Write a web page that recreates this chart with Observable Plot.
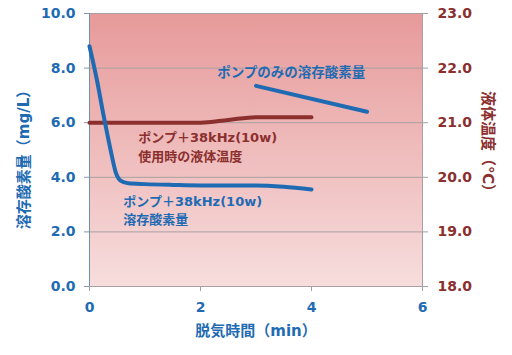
<!DOCTYPE html>
<html>
<head>
<meta charset="utf-8">
<script src="https://cdn.jsdelivr.net/npm/d3@7"></script>
<script src="https://cdn.jsdelivr.net/npm/@observablehq/plot@0.6"></script>
<style>
  body { margin: 0; background: #fff; }
</style>
</head>
<body>
<div id="chart"></div>
<script>
// ---- data ----
const doTime    = [0, 0.13, 0.26, 0.38, 0.47, 0.56, 0.7, 1, 1.5, 2, 3, 3.5, 4];
const doValues  = [8.8, 7.6, 6.2, 5.0, 4.2, 3.88, 3.78, 3.75, 3.72, 3.7, 3.7, 3.65, 3.55];
const pumpTime  = [3, 5];
const pumpDO    = [7.35, 6.4];
const tempTime  = [0, 1, 2, 2.5, 3, 4];
const tempValues= [21.0, 21.0, 21.0, 21.05, 21.1, 21.1];
const leftTicks = [0, 2, 4, 6, 8, 10];
const rightTicks= [18, 19, 20, 21, 22, 23];
const xTicks    = [0, 2, 4, 6];

const BLUE = "#1f6bb3";
const RED = "#8b2f2f";
const FONT = "'DejaVu Sans', 'Noto Sans CJK JP', sans-serif";

// temperature (18–23) mapped onto left scale (0–10)
const t2y = t => (t - 18) * 2;

const doData = doTime.map((x, i) => ({x, y: doValues[i]}));
const pumpData = pumpTime.map((x, i) => ({x, y: pumpDO[i]}));
const tempData = tempTime.map((x, i) => ({x, y: t2y(tempValues[i])}));

const plot = Plot.plot({
  width: 512,
  height: 355,
  marginLeft: 89,
  marginRight: 90,
  marginTop: 13,
  marginBottom: 69,
  x: {domain: [0, 6]},
  y: {domain: [0, 10]},
  style: {fontFamily: FONT, background: "#fff", overflow: "visible"},
  marks: [
    Plot.frame({fill: "url(#bgGrad)", stroke: "none"}),
    Plot.ruleY(leftTicks, {stroke: "#a8a0a0", strokeWidth: 1}),
    Plot.ruleX([6], {stroke: "#a8a0a0", strokeWidth: 1}),
    Plot.ruleX([0], {stroke: "#7090b0", strokeWidth: 1}),
    Plot.axisY({
      ticks: leftTicks, tickFormat: d => d.toFixed(1), tickSize: 5, tickPadding: 9,
      stroke: "#8898a8", fill: BLUE, fontSize: 14, fontWeight: "bold", label: null
    }),
    Plot.axisY({
      anchor: "right", ticks: rightTicks.map(t2y), tickFormat: d => (18 + d / 2).toFixed(1),
      tickSize: 5, tickPadding: 10, stroke: "#a0a0a0", fill: RED, fontSize: 14, fontWeight: "bold", label: null
    }),
    Plot.axisX({
      ticks: xTicks, tickFormat: d => String(d), tickSize: 5, tickPadding: 11, stroke: "#a0a0a0", fill: BLUE,
      fontSize: 14, fontWeight: "bold", label: null
    }),
    Plot.line(tempData, {x: "x", y: "y", stroke: RED, strokeWidth: 4, curve: "monotone-x"}),
    Plot.line(pumpData, {x: "x", y: "y", stroke: BLUE, strokeWidth: 4}),
    Plot.line(doData, {x: "x", y: "y", stroke: BLUE, strokeWidth: 4, curve: "monotone-x"}),
    // annotations
    Plot.text(["ポンプのみの溶存酸素量"], {x: 2.3, y: 7.85, textAnchor: "start", fill: BLUE, fontSize: 13.5, fontWeight: "bold"}),
    Plot.text(["ポンプ＋38kHz(10w)"], {x: 0.88, y: 5.45, textAnchor: "start", fill: RED, fontSize: 13, fontWeight: "bold"}),
    Plot.text(["使用時の液体温度"], {x: 0.88, y: 4.75, textAnchor: "start", fill: RED, fontSize: 13, fontWeight: "bold"}),
    Plot.text(["ポンプ＋38kHz(10w)"], {x: 0.61, y: 3.1, textAnchor: "start", fill: BLUE, fontSize: 13, fontWeight: "bold"}),
    Plot.text(["溶存酸素量"], {x: 0.61, y: 2.45, textAnchor: "start", fill: BLUE, fontSize: 13, fontWeight: "bold"}),
    // axis titles
    Plot.text(["溶存酸素量（mg/L）"], {frameAnchor: "left", textAnchor: "middle", lineAnchor: "middle", dx: -65, dy: 6, rotate: -90, fill: BLUE, fontSize: 15, fontWeight: "bold"}),
    Plot.text(["液体温度（℃）"], {frameAnchor: "right", textAnchor: "middle", lineAnchor: "middle", dx: 65, dy: -5, rotate: 90, fill: RED, fontSize: 15, fontWeight: "bold"}),
    Plot.text(["脱気時間（min）"], {frameAnchor: "bottom", textAnchor: "middle", lineAnchor: "middle", dy: 45, fill: BLUE, fontSize: 15, fontWeight: "bold"})
  ]
});

const svg = plot.tagName.toLowerCase() === "svg" ? plot : plot.querySelector("svg");
const defs = d3.select(svg).insert("defs", ":first-child");
const grad = defs.append("linearGradient").attr("id", "bgGrad")
  .attr("x1", 0).attr("y1", 0).attr("x2", 0).attr("y2", 1);
grad.append("stop").attr("offset", 0).attr("stop-color", "#e79a9a");
grad.append("stop").attr("offset", 1).attr("stop-color", "#f7dddd");

document.getElementById("chart").appendChild(plot);
</script>
</body>
</html>
